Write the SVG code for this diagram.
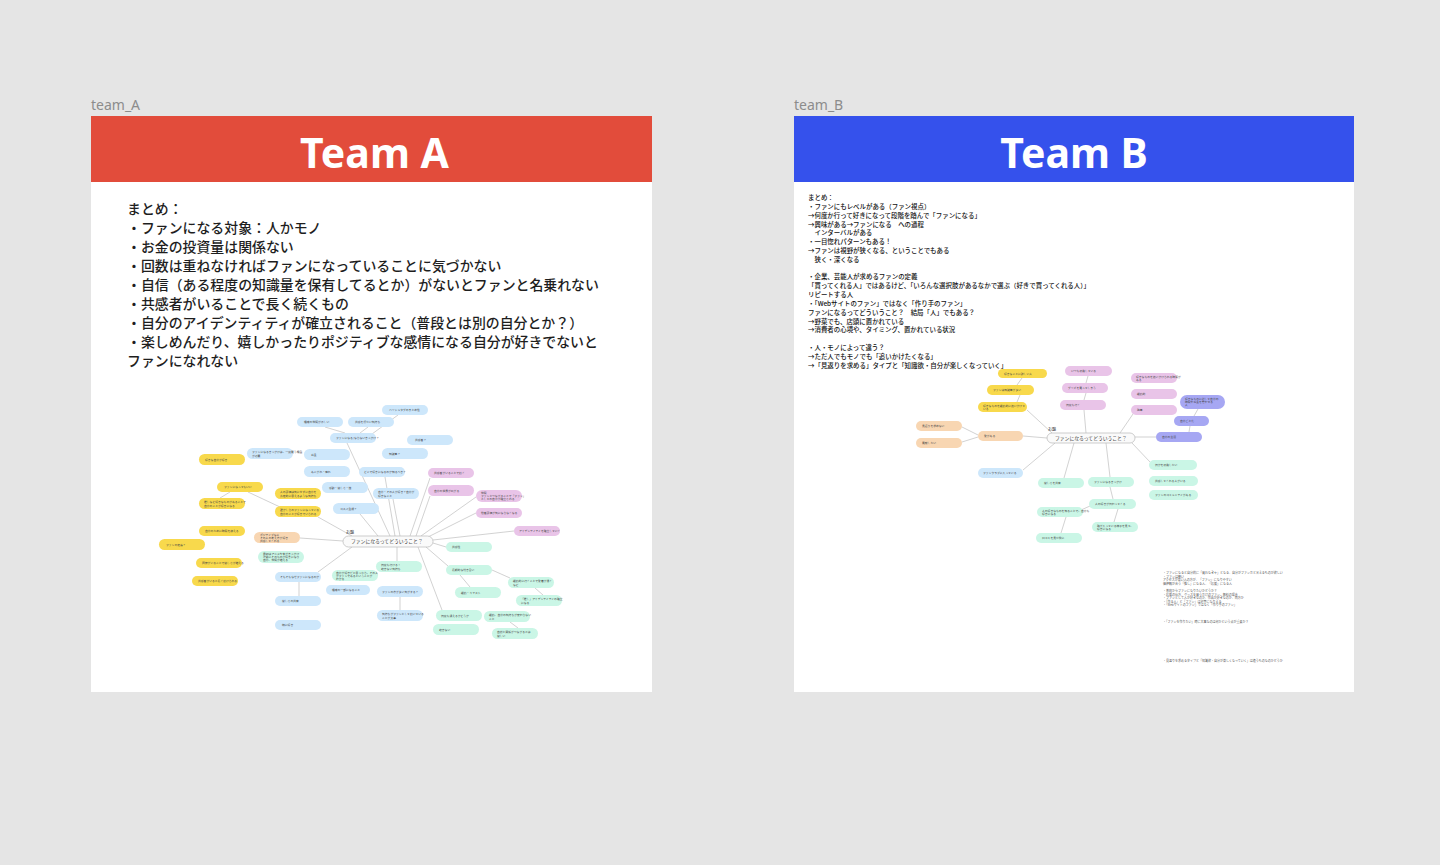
<svg xmlns="http://www.w3.org/2000/svg" width="1440" height="865" viewBox="0 0 1440 865">
<style>
.frame{font-family:"Noto Sans","Open Sans",sans-serif;font-size:14px;fill:#8c8c8c}
.hd{font-family:"Noto Sans","Open Sans",sans-serif;font-weight:700;font-size:41px;fill:#fff;text-anchor:middle}
.sa{font-family:"Noto Sans CJK JP",sans-serif;font-size:13.9px;font-weight:500;fill:#1e1e1e}
.sb{font-family:"Noto Sans CJK JP",sans-serif;font-size:6.45px;font-weight:500;fill:#111}
.sc{font-family:"Noto Sans CJK JP",sans-serif;font-size:3px;fill:#555}
.nt{font-family:"Noto Sans CJK JP",sans-serif;font-size:2.8px;fill:#444}
.ct{font-family:"Noto Sans CJK JP",sans-serif;font-size:4.8px;fill:#333}
.od{font-family:"Noto Sans CJK JP",sans-serif;font-size:4px;fill:#333}
.b rect{fill:#cde7fb}
.y rect{fill:#f8d94c}
.p rect{fill:#e9c4e8}
.g rect{fill:#caf6e6}
.o rect{fill:#f8d6b2}
.v rect{fill:#a6a7f3}
.c rect{fill:#fafafa;stroke:#b8b8b8;stroke-width:0.7}
#edgesA line,#edgesB line{stroke:#b4b4b4;stroke-width:0.6}
</style>
<rect width="1440" height="865" fill="#e5e5e5"/>

<text class="frame" x="91" y="110">team_A</text>
<text class="frame" x="794" y="110">team_B</text>

<g id="cardA">
<rect x="91" y="116" width="561" height="576" fill="#ffffff"/>
<rect x="91" y="116" width="561" height="66" fill="#e24c3b"/>
<text class="hd" x="374.5" y="168">Team A</text>
</g>
<g id="cardB">
<rect x="794" y="116" width="560" height="576" fill="#ffffff"/>
<rect x="794" y="116" width="560" height="66" fill="#3551ec"/>
<text class="hd" x="1074" y="168">Team B</text>
</g>

<g id="summaryA" class="sa">
<text x="127" y="214">まとめ：</text>
<text x="127" y="233">・ファンになる対象：人かモノ</text>
<text x="127" y="252">・お金の投資量は関係ない</text>
<text x="127" y="271">・回数は重ねなければファンになっていることに気づかない</text>
<text x="127" y="290">・自信（ある程度の知識量を保有してるとか）がないとファンと名乗れない</text>
<text x="127" y="309">・共感者がいることで長く続くもの</text>
<text x="127" y="328">・自分のアイデンティティが確立されること（普段とは別の自分とか？）</text>
<text x="127" y="347">・楽しめんだり、嬉しかったりポジティブな感情になる自分が好きでないと</text>
<text x="127" y="366">ファンになれない</text>
</g>

<g id="summaryB" class="sb">
<text x="808" y="200">まとめ：</text>
<text x="808" y="209">・ファンにもレベルがある（ファン視点）</text>
<text x="808" y="217.5">→何度か行って好きになって段階を踏んで「ファンになる」</text>
<text x="808" y="226.5">→興味がある→ファンになる　への過程</text>
<text x="808" y="235">　インターバルがある</text>
<text x="808" y="244">・一目惚れパターンもある！</text>
<text x="808" y="253">→ファンは視野が狭くなる、ということでもある</text>
<text x="808" y="262">　狭く・深くなる</text>
<text x="808" y="279">・企業、芸能人が求めるファンの定義</text>
<text x="808" y="288">「買ってくれる人」ではあるけど、「いろんな選択肢があるなかで選ぶ（好きで買ってくれる人）」</text>
<text x="808" y="297">リピートする人</text>
<text x="808" y="306">・「Webサイトのファン」ではなく「作り手のファン」</text>
<text x="808" y="314.5">ファンになるってどういうこと？　結局「人」でもある？</text>
<text x="808" y="323.5">→野菜でも、店頭に置かれている</text>
<text x="808" y="332">→消費者の心境や、タイミング、置かれている状況</text>
<text x="808" y="350">・人・モノによって違う？</text>
<text x="808" y="358.5">→ただ人でもモノでも「追いかけたくなる」</text>
<text x="808" y="367.5">→「見返りを求める」タイプと「知識欲・自分が楽しくなっていく」</text>
</g>

<g id="notesB" class="sc">
<text x="1163" y="574">・ファンになると自分的に「買わなきゃ」となる、自分がファンだと言えるものが欲しい</text>
<text x="1163" y="577.5">・ファンは熱い</text>
<text x="1163" y="581">アクセスが高い人の方が、「ファン」になりやすい</text>
<text x="1163" y="584.5">価値観が合う「推し」になる人、「応援」になる人</text>
<text x="1163" y="592">・普段からファンになりたいかどうか？</text>
<text x="1163" y="595.5">・応援の仕方、グッズを買うだけのファン、無料の場合</text>
<text x="1163" y="599">・ファンとして人が好きなのか、作品が好きなのか、両方か</text>
<text x="1163" y="602.5">・「作る人」と「ファン」は対等になりえる</text>
<text x="1163" y="606">・「Webサイトのファン」ではなく「作り手のファン」</text>
<text x="1163" y="623">・「ファンを作りたい」時に大事なのは何かという点が重要か？</text>
<text x="1163" y="662">・見返りを求めるタイプと「知識欲・自分が楽しくなっていく」は違うものなのかどうか</text>
</g>

<g id="edgesA">
<line x1="347" y1="443" x2="390" y2="536"/>
<line x1="345" y1="433" x2="325" y2="427"/>
<line x1="360" y1="433" x2="368" y2="427"/>
<line x1="372" y1="434" x2="398" y2="415"/>
<line x1="385" y1="477" x2="395" y2="536"/>
<line x1="393" y1="499" x2="400" y2="536"/>
<line x1="360" y1="514" x2="378" y2="536"/>
<line x1="430" y1="478" x2="410" y2="536"/>
<line x1="430" y1="496" x2="416" y2="536"/>
<line x1="476" y1="497" x2="421" y2="536"/>
<line x1="476" y1="513" x2="428" y2="537"/>
<line x1="514" y1="531" x2="433" y2="540"/>
<line x1="433" y1="543" x2="446" y2="547"/>
<line x1="426" y1="547" x2="448" y2="566"/>
<line x1="418" y1="547" x2="442" y2="610"/>
<line x1="397" y1="547" x2="397" y2="561"/>
<line x1="300" y1="538" x2="343" y2="541"/>
<line x1="318" y1="517" x2="352" y2="536"/>
<line x1="248" y1="492" x2="280" y2="507"/>
<line x1="230" y1="492" x2="220" y2="498"/>
<line x1="318" y1="572" x2="352" y2="547"/>
<line x1="299" y1="582" x2="299" y2="596"/>
<line x1="460" y1="575" x2="470" y2="587"/>
<line x1="492" y1="570" x2="510" y2="578"/>
<line x1="535" y1="588" x2="543" y2="595"/>
<line x1="400" y1="597" x2="400" y2="610"/>
<line x1="510" y1="622" x2="518" y2="628"/>
</g>

<g id="edgesB">
<line x1="1023" y1="436" x2="1047" y2="438"/>
<line x1="978" y1="435" x2="962" y2="427"/>
<line x1="978" y1="437" x2="962" y2="442"/>
<line x1="1027" y1="410" x2="1052" y2="433"/>
<line x1="1017" y1="402" x2="1020" y2="395"/>
<line x1="1017" y1="385" x2="1022" y2="378"/>
<line x1="1055" y1="443" x2="1023" y2="470"/>
<line x1="1086" y1="433" x2="1084" y2="410"/>
<line x1="1084" y1="400" x2="1086" y2="393"/>
<line x1="1086" y1="383" x2="1088" y2="376"/>
<line x1="1120" y1="433" x2="1133" y2="414"/>
<line x1="1135" y1="437" x2="1156" y2="437"/>
<line x1="1189" y1="432" x2="1190" y2="426"/>
<line x1="1194" y1="416" x2="1198" y2="409"/>
<line x1="1132" y1="443" x2="1150" y2="462"/>
<line x1="1074" y1="443" x2="1064" y2="478"/>
<line x1="1106" y1="443" x2="1110" y2="477"/>
<line x1="1110" y1="487" x2="1113" y2="499"/>
<line x1="1090" y1="506" x2="1081" y2="510"/>
<line x1="1118" y1="509" x2="1114" y2="522"/>
<line x1="1066" y1="517" x2="1061" y2="533"/>
</g>

<g id="mindmapA">
<g id="a1" class="b"><rect x="382" y="405" width="46" height="10" rx="5"/><text class="nt" x="389" y="411">ハッシュタグのまとめ性</text></g>
<g id="a2" class="b"><rect x="297" y="417" width="46" height="10" rx="5"/><text class="nt" x="304" y="423">趣味の仲間がほしい</text></g>
<g id="a3" class="b"><rect x="348" y="417" width="46" height="10" rx="5"/><text class="nt" x="355" y="423">共感を得たい気持ち</text></g>
<g id="a4" class="b"><rect x="330" y="433" width="46" height="10" rx="5"/><text class="nt" x="336" y="439">ファンになる/ならないきっかけ？</text></g>
<g id="a5" class="b"><rect x="407" y="435" width="46" height="10" rx="5"/><text class="nt" x="415" y="441">共感者？</text></g>
<g id="a6" class="b"><rect x="247" y="448" width="46" height="11" rx="5.5"/><text class="nt" x="252" y="453">ファンになるきっかけは、一度買う機会</text><text class="nt" x="252" y="456.5">が必要</text></g>
<g id="a7" class="y"><rect x="199" y="454" width="46" height="11" rx="5.5"/><text class="nt" x="205" y="460.5">好きな自分が好き</text></g>
<g id="a8" class="b"><rect x="304" y="449" width="46" height="11" rx="5.5"/><text class="nt" x="311" y="455.5">お金</text></g>
<g id="a9" class="b"><rect x="382" y="448" width="46" height="11" rx="5.5"/><text class="nt" x="389" y="454.5">知識量？</text></g>
<g id="a10" class="b"><rect x="304" y="466" width="46" height="11" rx="5.5"/><text class="nt" x="311" y="472.5">あこがれ・憧れ</text></g>
<g id="a11" class="b"><rect x="359" y="467" width="46" height="10" rx="5"/><text class="nt" x="364" y="473">どこで好きになるのか知るべき？</text></g>
<g id="a12" class="p"><rect x="428" y="468" width="46" height="10" rx="5"/><text class="nt" x="434" y="474">共感者がいることで続く</text></g>
<g id="a13" class="y"><rect x="217" y="482" width="46" height="10" rx="5"/><text class="nt" x="224" y="488">ファンになってもいい</text></g>
<g id="a14" class="b"><rect x="322" y="482" width="46" height="11" rx="5.5"/><text class="nt" x="329" y="488.5">感動・楽しさ・迷</text></g>
<g id="a15" class="y"><rect x="275" y="488" width="46" height="11" rx="5.5"/><text class="nt" x="280" y="493">人の評価は気にせずに自分を</text><text class="nt" x="280" y="496.5">肯定的に思えるような気持ち</text></g>
<g id="a16" class="b"><rect x="373" y="488" width="46" height="11" rx="5.5"/><text class="nt" x="378" y="493">自分・その人が好き？自分が</text><text class="nt" x="378" y="496.5">好きなこと</text></g>
<g id="a17" class="p"><rect x="428" y="485" width="46" height="11" rx="5.5"/><text class="nt" x="434" y="491.5">自分の世界が広がる</text></g>
<g id="a18" class="p"><rect x="476" y="490" width="46" height="12" rx="6"/><text class="nt" x="481" y="494">仲間</text><text class="nt" x="481" y="497">ファンとつながることで「ファン」</text><text class="nt" x="481" y="500">としての自分が確立される</text></g>
<g id="a19" class="y"><rect x="199" y="498" width="46" height="11" rx="5.5"/><text class="nt" x="204" y="503">推しなど好きなものがあることで</text><text class="nt" x="204" y="506.5">自分のことが好きになる</text></g>
<g id="a20" class="b"><rect x="333" y="503" width="46" height="11" rx="5.5"/><text class="nt" x="340" y="509.5">コスパ重視？</text></g>
<g id="a21" class="y"><rect x="275" y="506" width="46" height="11" rx="5.5"/><text class="nt" x="280" y="511">誰かしらのファンになっている</text><text class="nt" x="280" y="514.5">自分のことが好きでいられる</text></g>
<g id="a22" class="p"><rect x="476" y="508" width="46" height="10" rx="5"/><text class="nt" x="481" y="514">他者評価が気にならなくなる</text></g>
<g id="a23" class="y"><rect x="199" y="526" width="46" height="10" rx="5"/><text class="nt" x="205" y="532">自分のために時間を使える</text></g>
<g id="a24" class="p"><rect x="514" y="526" width="46" height="10" rx="5"/><text class="nt" x="519" y="532">アイデンティティを確立していく</text></g>
<g id="a25" class="o"><rect x="254" y="532" width="46" height="11" rx="5.5"/><text class="nt" x="260" y="535.5">ポジティブな人</text><text class="nt" x="260" y="538.5">その人の考え方が好き</text><text class="nt" x="260" y="541.5">共感してくれる</text></g>
<g id="a26" class="y"><rect x="159" y="539" width="46" height="11" rx="5.5"/><text class="nt" x="166" y="545.5">ファンの定義？</text></g>
<g id="a27" class="g"><rect x="446" y="542" width="46" height="10" rx="5"/><text class="nt" x="452" y="548">共感性</text></g>
<g id="a28" class="g"><rect x="258" y="551" width="46" height="12" rx="6"/><text class="nt" x="263" y="555">最初はアニメや本がきっかけ</text><text class="nt" x="263" y="558">次第にそのものが好きになり</text><text class="nt" x="263" y="561">自分、仲間が増える</text></g>
<g id="a29" class="y"><rect x="196" y="558" width="46" height="10" rx="5"/><text class="nt" x="202" y="564">同僚がいることで楽しさが増える</text></g>
<g id="a30" class="g"><rect x="376" y="561" width="46" height="11" rx="5.5"/><text class="nt" x="381" y="566">何度も行ける！</text><text class="nt" x="381" y="569.5">飽きない気持ち</text></g>
<g id="a31" class="g"><rect x="446" y="565" width="46" height="10" rx="5"/><text class="nt" x="452" y="571">長期的な付き合い</text></g>
<g id="a32" class="g"><rect x="332" y="570" width="46" height="11" rx="5.5"/><text class="nt" x="336" y="573.5">自分が好きだと思ったら、その人</text><text class="nt" x="336" y="576.5">がファンであるということが</text><text class="nt" x="336" y="579.5">わかる</text></g>
<g id="a33" class="b"><rect x="275" y="572" width="46" height="10" rx="5"/><text class="nt" x="280" y="578">そもそもなぜファンになるのか</text></g>
<g id="a34" class="y"><rect x="192" y="576" width="46" height="10" rx="5"/><text class="nt" x="198" y="582">共感者がいると長く続けられる</text></g>
<g id="a35" class="g"><rect x="508" y="577" width="46" height="11" rx="5.5"/><text class="nt" x="513" y="582">継続的に行くことで愛着が湧く</text><text class="nt" x="513" y="585.5">など</text></g>
<g id="a36" class="b"><rect x="326" y="585" width="44" height="10" rx="5"/><text class="nt" x="332" y="591">趣味の一部になること</text></g>
<g id="a37" class="b"><rect x="377" y="586" width="46" height="11" rx="5.5"/><text class="nt" x="382" y="592.5">ファンの方が多い気がする？</text></g>
<g id="a38" class="g"><rect x="455" y="587" width="46" height="11" rx="5.5"/><text class="nt" x="461" y="593.5">継続・キャスト</text></g>
<g id="a39" class="b"><rect x="275" y="596" width="46" height="10" rx="5"/><text class="nt" x="282" y="602">楽しさの共有</text></g>
<g id="a40" class="g"><rect x="516" y="595" width="46" height="11" rx="5.5"/><text class="nt" x="521" y="600">「推し」アイデンティティの確立</text><text class="nt" x="521" y="603.5">になる</text></g>
<g id="a41" class="b"><rect x="377" y="610" width="46" height="11" rx="5.5"/><text class="nt" x="382" y="615">気持ちがファンとして続いている</text><text class="nt" x="382" y="618.5">ことが大事</text></g>
<g id="a42" class="g"><rect x="436" y="610" width="46" height="11" rx="5.5"/><text class="nt" x="441" y="616.5">何度も通えるかどうか</text></g>
<g id="a43" class="g"><rect x="484" y="611" width="46" height="11" rx="5.5"/><text class="nt" x="489" y="616">継続、自分の気持ちが変わらない</text><text class="nt" x="489" y="619.5">こと</text></g>
<g id="a44" class="b"><rect x="275" y="620" width="46" height="10" rx="5"/><text class="nt" x="282" y="626">特に好き</text></g>
<g id="a45" class="g"><rect x="433" y="624" width="46" height="11" rx="5.5"/><text class="nt" x="439" y="630.5">飽きない</text></g>
<g id="a46" class="g"><rect x="492" y="628" width="46" height="11" rx="5.5"/><text class="nt" x="497" y="633">自然と関係がつながるとは</text><text class="nt" x="497" y="636.5">楽しい</text></g>
<g id="centralA" class="c"><text class="od" x="346" y="534">お題</text><rect x="343" y="536" width="90" height="11" rx="5.5"/><text class="ct" x="351" y="543.3">ファンになるってどういうこと？</text></g>
</g>

<g id="mindmapB">
<g id="b1" class="y"><rect x="998" y="369" width="49" height="9" rx="4.5"/><text class="nt" x="1004" y="374.5">好きなことに詳しい人</text></g>
<g id="b2" class="y"><rect x="987" y="385" width="47" height="10" rx="5"/><text class="nt" x="993" y="391">ファンは知識量が多い</text></g>
<g id="b3" class="y"><rect x="978" y="402" width="49" height="10" rx="5"/><text class="nt" x="983" y="406.5">好きなものを継続的に追いかけて</text><text class="nt" x="983" y="410">いる</text></g>
<g id="b4" class="o"><rect x="916" y="421" width="46" height="10" rx="5"/><text class="nt" x="922" y="427">見返りを求めない</text></g>
<g id="b5" class="o"><rect x="978" y="431" width="45" height="10" rx="5"/><text class="nt" x="984" y="437">愛がある</text></g>
<g id="b6" class="o"><rect x="916" y="438" width="46" height="10" rx="5"/><text class="nt" x="922" y="444">貢献したい</text></g>
<g id="b7" class="b"><rect x="978" y="468" width="45" height="10" rx="5"/><text class="nt" x="983" y="474">ファンクラブに入っている</text></g>
<g id="b8" class="p"><rect x="1065" y="366" width="47" height="10" rx="5"/><text class="nt" x="1071" y="372">いつも応援している</text></g>
<g id="b9" class="p"><rect x="1062" y="383" width="46" height="10" rx="5"/><text class="nt" x="1068" y="389">グッズを買ってしまう</text></g>
<g id="b10" class="p"><rect x="1060" y="400" width="46" height="10" rx="5"/><text class="nt" x="1066" y="406">何度も行く</text></g>
<g id="b11" class="p"><rect x="1131" y="373" width="46" height="10" rx="5"/><text class="nt" x="1136" y="377.5">好きなものを追いかけられる時間が</text><text class="nt" x="1136" y="381">ある</text></g>
<g id="b12" class="p"><rect x="1131" y="389" width="46" height="10" rx="5"/><text class="nt" x="1137" y="395">継続的</text></g>
<g id="b13" class="p"><rect x="1131" y="405" width="46" height="10" rx="5"/><text class="nt" x="1137" y="411">熱量</text></g>
<g id="b14" class="v"><rect x="1180" y="395" width="45" height="14" rx="7"/><text class="nt" x="1185" y="400">好きなものに対して自分の</text><text class="nt" x="1185" y="403">時間やお金を費やせる</text><text class="nt" x="1185" y="406">人</text></g>
<g id="b15" class="v"><rect x="1174" y="416" width="35" height="10" rx="5"/><text class="nt" x="1180" y="422">自分ごと化</text></g>
<g id="b16" class="v"><rect x="1156" y="432" width="46" height="10" rx="5"/><text class="nt" x="1162" y="438">自分の生活</text></g>
<g id="b17" class="g"><rect x="1149" y="460" width="48" height="10" rx="5"/><text class="nt" x="1155" y="466">何かを応援したい</text></g>
<g id="b18" class="g"><rect x="1149" y="476" width="49" height="10" rx="5"/><text class="nt" x="1155" y="482">共感してくれる人がいる</text></g>
<g id="b19" class="g"><rect x="1149" y="490" width="49" height="10" rx="5"/><text class="nt" x="1155" y="496">ファンのコミュニティがある</text></g>
<g id="b20" class="g"><rect x="1038" y="478" width="46" height="10" rx="5"/><text class="nt" x="1044" y="484">楽しさを共有</text></g>
<g id="b21" class="g"><rect x="1088" y="477" width="46" height="10" rx="5"/><text class="nt" x="1094" y="483">ファンになるきっかけ</text></g>
<g id="b22" class="g"><rect x="1089" y="499" width="47" height="10" rx="5"/><text class="nt" x="1095" y="505">人の好きが伝わってくる</text></g>
<g id="b23" class="g"><rect x="1037" y="507" width="46" height="10" rx="5"/><text class="nt" x="1042" y="511.5">人の好きなものを知ることで、自分も</text><text class="nt" x="1042" y="515">好きになる</text></g>
<g id="b24" class="g"><rect x="1092" y="522" width="46" height="10" rx="5"/><text class="nt" x="1097" y="526.5">熱が入っている様子を見て、</text><text class="nt" x="1097" y="530">好きになる</text></g>
<g id="b25" class="g"><rect x="1036" y="533" width="46" height="10" rx="5"/><text class="nt" x="1042" y="539">口コミを見た後に</text></g>
<g id="centralB" class="c"><text class="od" x="1048" y="431">お題</text><rect x="1047" y="433" width="88" height="10" rx="5"/><text class="ct" x="1055" y="439.8">ファンになるってどういうこと？</text></g>
</g>
</svg>
